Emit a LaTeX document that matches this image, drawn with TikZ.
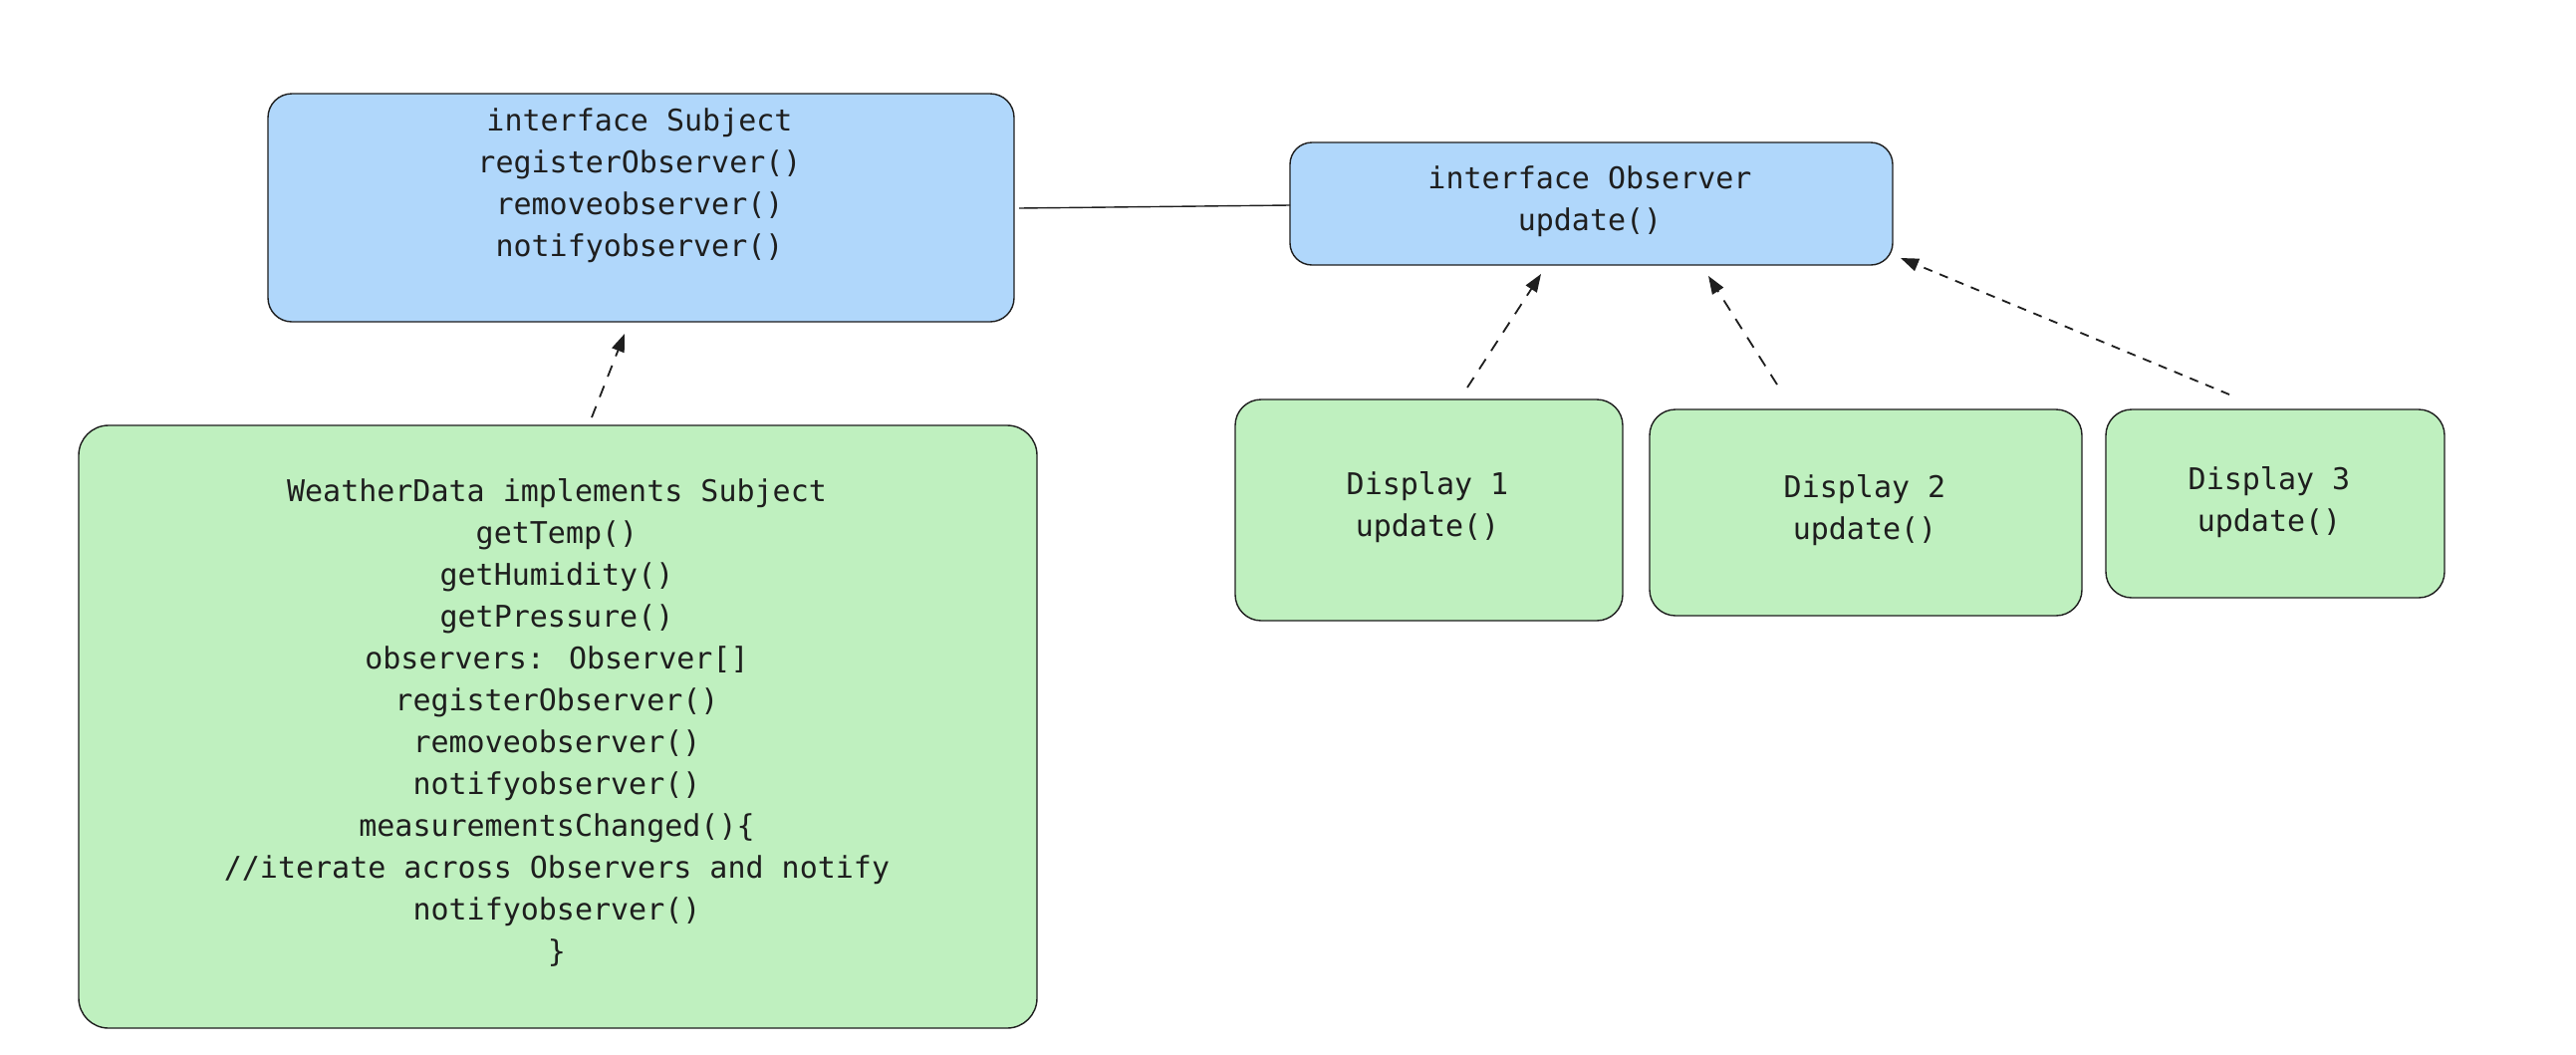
\documentclass[tikz,border=0pt]{standalone}
\usepackage{fontspec}
\setmainfont{DejaVu Sans Mono}
\usetikzlibrary{arrows.meta}
\definecolor{boxblue}{RGB}{176,215,251}
\definecolor{boxgreen}{RGB}{191,240,191}
\definecolor{ink}{RGB}{30,30,30}
\begin{document}
\begin{tikzpicture}[x=1pt,y=-1pt,
  box/.style={draw=ink,line width=1.4pt,rounded corners=24pt,inner sep=0pt},
  bluebox/.style={box,fill=boxblue},
  greenbox/.style={box,fill=boxgreen},
  label/.style={align=center,text=ink,font=\fontsize{30}{42}\selectfont,inner sep=0pt},
  dep/.style={draw=ink,line width=1.8pt,dash pattern=on 12pt off 10pt,-{Triangle[length=18pt,width=13pt]}},
  assoc/.style={draw=ink,line width=1.4pt}]
\useasboundingbox[fill=white] (0,0) rectangle (2586,1058);
% boxes
\node[bluebox,minimum width=749pt,minimum height=229pt] (subj) at (643.5,208.5) {};
\node[bluebox,minimum width=605pt,minimum height=123pt,rounded corners=22pt] (obs) at (1597.5,204.5) {};
\node[greenbox,minimum width=962pt,minimum height=605pt,rounded corners=30pt] (wd) at (560,729.5) {};
\node[greenbox,minimum width=389pt,minimum height=222pt,rounded corners=26pt] (d1) at (1434.5,512) {};
\node[greenbox,minimum width=434pt,minimum height=207pt,rounded corners=26pt] (d2) at (1873,514.5) {};
\node[greenbox,minimum width=340pt,minimum height=189pt,rounded corners=26pt] (d3) at (2284,505.5) {};
% texts
\node[label] (subjt) at (642,186) {interface Subject\\registerObserver()\\removeobserver()\\notifyobserver()};
\node[label] (obst) at (1596,202) {interface Observer\\update()};
\node[label] (wdt) at (559,725) {WeatherData implements Subject\\getTemp()\\getHumidity()\\getPressure()\\observers: Observer[]\\registerObserver()\\removeobserver()\\notifyobserver()\\measurementsChanged()\{\\//iterate across Observers and notify\\notifyobserver()\\\}};
\node[label] (d1t) at (1433,509) {Display 1\\update()};
\node[label] (d2t) at (1872,512) {Display 2\\update()};
\node[label] (d3t) at (2278,504) {Display 3\\update()};
% connector end points
\coordinate (a0) at (1023,209);
\coordinate (a1) at (1295,206);
\coordinate (wds) at (594,419);
\coordinate (wde) at (627,335);
\coordinate (d1s) at (1473,389);
\coordinate (d1e) at (1547,275);
\coordinate (d2s) at (1784,386);
\coordinate (d2e) at (1715,277);
\coordinate (d3s) at (2238,396);
\coordinate (d3e) at (1908,259);
% connectors
\draw[assoc] (a0) -- (a1);
\draw[dep] (wds) -- (wde);
\draw[dep] (d1s) -- (d1e);
\draw[dep] (d2s) -- (d2e);
\draw[dep,dash pattern=on 9pt off 8pt] (d3s) -- (d3e);
\end{tikzpicture}
\end{document}
